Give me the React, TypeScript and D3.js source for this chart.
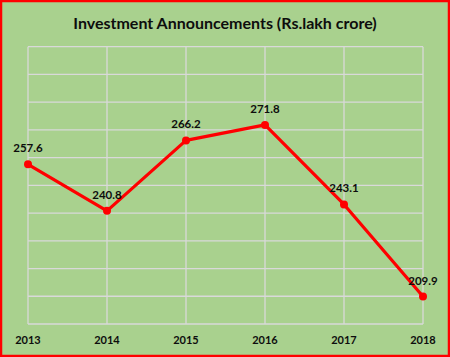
import React from "react";
import * as d3 from "d3";

const years = ["2013", "2014", "2015", "2016", "2017", "2018"];
const values = [257.6, 240.8, 266.2, 271.8, 243.1, 209.9];
const yTicks = [200, 210, 220, 230, 240, 250, 260, 270, 280, 290, 300];
const title = "Investment Announcements (Rs.lakh crore)";

export default function App() {
  const W = 450, H = 357;
  const x = d3.scalePoint<string>().domain(years).range([28, 423]);
  const y = d3.scaleLinear().domain([200, 300]).range([324, 46.7]);
  const line = d3.line<number>().x((_, i) => x(years[i])!).y((d) => y(d));
  const font = "Lato, 'Open Sans', sans-serif";
  return (
    <svg width={W} height={H} style={{ position: "absolute", left: 0, top: 0 }}>
      <rect x={1} y={1} width={W - 2} height={H - 2} fill="#A9D18E" stroke="#FF0000" strokeWidth={2.5} />
      <text x={225} y={28.5} textAnchor="middle" fontFamily={font} fontWeight="bold" fontSize={16} fill="#0d0d0d">
        {title}
      </text>
      {yTicks.map((t) => (
        <line key={t} x1={28} x2={423} y1={y(t)} y2={y(t)} stroke="#D9D9D9" strokeWidth={1.3} />
      ))}
      {years.map((yr) => (
        <line key={yr} x1={x(yr)} x2={x(yr)} y1={y(300)} y2={y(200)} stroke="#D9D9D9" strokeWidth={1.3} />
      ))}
      <path d={line(values)!} fill="none" stroke="#FF0000" strokeWidth={3.2} strokeLinejoin="round" />
      {values.map((v, i) => (
        <circle key={i} cx={x(years[i])} cy={y(v)} r={4} fill="#FF0000" />
      ))}
      {values.map((v, i) => (
        <text key={"l" + i} x={x(years[i])} y={y(v) - 12} textAnchor="middle" fontFamily={font} fontWeight="bold" fontSize={11.5} fill="#0d0d0d">
          {v.toFixed(1)}
        </text>
      ))}
      {years.map((yr) => (
        <text key={"t" + yr} x={x(yr)} y={344} textAnchor="middle" fontFamily={font} fontWeight="bold" fontSize={11} fill="#0d0d0d">
          {yr}
        </text>
      ))}
    </svg>
  );
}
